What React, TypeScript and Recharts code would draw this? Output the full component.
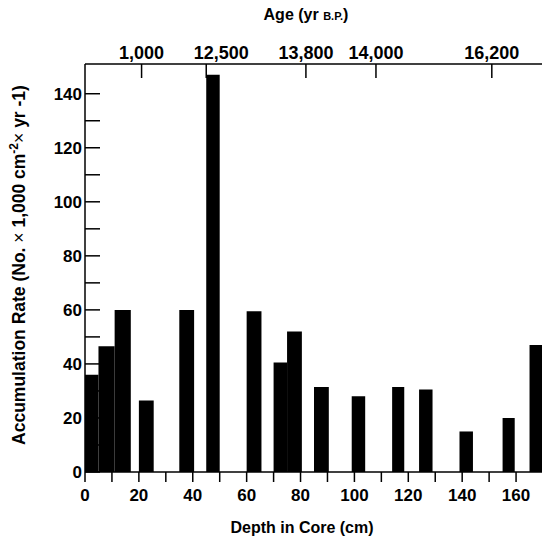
import React from 'react';
import { ComposedChart, XAxis, YAxis, ReferenceArea, Label } from 'recharts';

// Core samples: depth interval (cm) and accumulation rate
const sampleTop = [0, 5, 11, 20, 35, 45, 60, 70, 75, 85, 99, 114, 124, 139, 155, 165];
const sampleBottom = [5, 11, 17, 25.5, 40.5, 50, 65.5, 75, 80.5, 90.5, 104, 118.5, 129, 144, 159.5, 170];
const accumulationRate = [36, 46.5, 60, 26.5, 60, 147, 59.5, 40.5, 52, 31.5, 28, 31.5, 30.5, 15, 20, 47];

// Axis ticks
const depthTicks = [0, 10, 20, 30, 40, 50, 60, 70, 80, 90, 100, 110, 120, 130, 140, 150, 160];
const rateTicks = [0, 10, 20, 30, 40, 50, 60, 70, 80, 90, 100, 110, 120, 130, 140];

// Dated horizons on the top axis (depth in cm -> age label)
const ageDepths = [21, 45, 82, 108, 151];
const ageLabels = ['1,000', '12,500', '13,800', '14,000', '16,200'];

const FONT = '"Liberation Sans", Arial, sans-serif';
const AXIS = { stroke: '#000', strokeWidth: 1.5 };

const samples = sampleTop.map((top, i) => ({
  top,
  bottom: sampleBottom[i],
  rate: accumulationRate[i],
}));

const everyTwenty = (v: number) => (v % 20 === 0 ? String(v) : '');

const AgeTick = ({ x, y, payload }: any) => {
  const i = ageDepths.indexOf(payload.value);
  // the 12,500 label sits a little right of its tick
  const shift = i === 1 ? 15 : 0;
  return (
    <text x={x + shift} y={y} textAnchor="middle" fontFamily={FONT} fontWeight="bold" fontSize={18} fill="#000">
      {ageLabels[i]}
    </text>
  );
};

export default function App() {
  return (
    <div style={{ position: 'absolute', left: 0, top: 0, width: 542, height: 540, overflow: 'hidden', background: '#fff' }}>
      <ComposedChart width={544} height={540} data={samples} margin={{ top: 0, right: 0, bottom: 0, left: 0 }}>
        <XAxis
          xAxisId="depth"
          dataKey="top"
          type="number"
          orientation="bottom"
          domain={[0, 170]}
          allowDataOverflow
          ticks={depthTicks}
          tickFormatter={everyTwenty}
          height={68}
          tickSize={10}
          tickMargin={7}
          axisLine={AXIS}
          tickLine={AXIS}
          tick={{ fill: '#000', fontSize: 17, fontWeight: 'bold', fontFamily: FONT }}
          interval={0}
        >
          <Label
            content={({ viewBox }: any) => (
              <text
                x={viewBox.x + viewBox.width / 2 - 12}
                y={viewBox.y + 61}
                textAnchor="middle"
                fontFamily={FONT}
                fontWeight="bold"
                fontSize={16}
                fill="#000"
              >
                Depth in Core (cm)
              </text>
            )}
          />
        </XAxis>
        <XAxis
          xAxisId="age"
          dataKey="top"
          type="number"
          orientation="top"
          domain={[0, 170]}
          allowDataOverflow
          ticks={ageDepths}
          height={64}
          tickSize={-14}
          tickMargin={19}
          axisLine={AXIS}
          tickLine={AXIS}
          tick={<AgeTick />}
          interval={0}
        >
          <Label
            content={() => (
              <text x={306} y={20} textAnchor="middle" fontFamily={FONT} fontWeight="bold" fontSize={16} fill="#000">
                Age (yr <tspan fontSize={11}>B.P.</tspan>)
              </text>
            )}
          />
        </XAxis>
        <YAxis
          yAxisId="rate"
          dataKey="rate"
          type="number"
          orientation="left"
          domain={[0, 151]}
          allowDataOverflow
          ticks={rateTicks}
          tickFormatter={everyTwenty}
          width={85}
          tickSize={-15}
          tickMargin={18}
          axisLine={AXIS}
          tickLine={AXIS}
          tick={{ fill: '#000', fontSize: 17, fontWeight: 'bold', fontFamily: FONT }}
          interval={0}
        >
          <Label
            content={({ viewBox }: any) => {
              const cy = viewBox.y + viewBox.height / 2 - 3;
              return (
                <text
                  x={25}
                  y={cy}
                  transform={`rotate(-90, 25, ${cy})`}
                  textAnchor="middle"
                  fontFamily={FONT}
                  fontWeight="bold"
                  fontSize={17.5}
                  fill="#000"
                >
                  Accumulation Rate (No. <tspan fontWeight="normal">×</tspan> 1,000 cm
                  <tspan dy={-7} fontSize={12}>-2</tspan>
                  <tspan dy={7} fontWeight="normal">×</tspan> yr -1)
                </text>
              );
            }}
          />
        </YAxis>
        <YAxis
          yAxisId="rateRight"
          dataKey="rate"
          type="number"
          orientation="right"
          domain={[0, 151]}
          allowDataOverflow
          ticks={rateTicks}
          width={1}
          tickSize={-15}
          axisLine={AXIS}
          tickLine={AXIS}
          tick={false}
          interval={0}
        />
        {samples.map((s, i) => (
          <ReferenceArea
            key={i}
            xAxisId="depth"
            yAxisId="rate"
            x1={s.top}
            x2={s.bottom}
            y1={0}
            y2={s.rate}
            fill="#000"
            fillOpacity={1}
            stroke="none"
          />
        ))}
      </ComposedChart>
    </div>
  );
}
